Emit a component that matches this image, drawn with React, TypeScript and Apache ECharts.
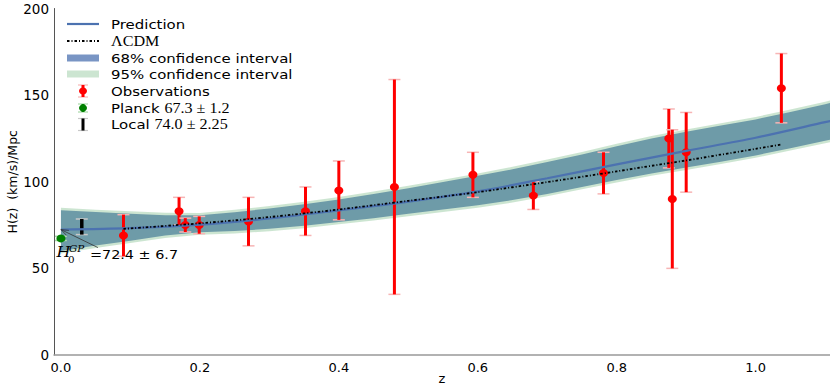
import React, { useEffect, useRef } from "react";
import * as echarts from "echarts";

const xTickValues = [0, 0.2, 0.4, 0.6, 0.8, 1.0];

// Observations (cosmic chronometers)
const obsZ = [0.09, 0.17, 0.179, 0.199, 0.27, 0.352, 0.4, 0.48, 0.593, 0.68, 0.781, 0.875, 0.88, 0.9, 1.037];
const obsH = [69, 83, 75, 75, 77, 83, 95, 97, 104, 92, 105, 125, 90, 117, 154];
const obsErr = [12, 8, 4, 5, 14, 14, 17, 62, 13, 8, 12, 17, 40, 23, 20];

const planckZ = [0];
const planckH = [67.3];
const planckErr = [1.2];

const localZ = [0.03];
const localH = [74.0];
const localErr = [4.5];

// GP prediction
const predZ = [0, 0.1, 0.2, 0.3, 0.4, 0.5, 0.6, 0.7, 0.8, 0.9, 1.0, 1.1, 1.12];
const predH = [72.4, 73.2, 75.2, 78.8, 83.5, 88.5, 94.4, 102.0, 110.0, 117.8, 125.4, 134.4, 136.2];

// Confidence bands
const bandZ = [0, 0.05, 0.1, 0.15, 0.2, 0.25, 0.3, 0.35, 0.4, 0.45, 0.5, 0.55, 0.6, 0.65, 0.7, 0.75, 0.8, 0.85, 0.9, 0.95, 1.0, 1.05, 1.1, 1.12];
const lo68 = [60.0, 63.2, 66.0, 69.0, 70.8, 71.6, 72.8, 74.6, 76.8, 79.0, 81.5, 84.0, 86.4, 89.4, 93.0, 97.0, 101.0, 104.8, 108.2, 111.6, 115.2, 119.4, 123.6, 125.3];
const hi68 = [83.6, 82.5, 81.6, 80.7, 80.6, 82.4, 84.6, 87.0, 89.8, 93.0, 96.3, 99.8, 103.4, 107.2, 111.4, 115.8, 120.5, 125.0, 128.8, 132.4, 136.0, 140.3, 144.8, 146.6];
const lo95 = [58.6, 61.8, 64.6, 67.6, 69.4, 70.2, 71.4, 73.2, 75.4, 77.6, 80.1, 82.6, 85.0, 88.0, 91.6, 95.6, 99.6, 103.4, 106.8, 110.2, 113.8, 118.0, 122.2, 123.9];
const hi95 = [85.0, 83.9, 83.0, 82.1, 82.0, 83.8, 86.0, 88.4, 91.2, 94.4, 97.7, 101.2, 104.8, 108.6, 112.8, 117.2, 121.9, 126.4, 130.2, 133.8, 137.4, 141.7, 146.2, 148.0];

// LambdaCDM
const lcdmZ = [0.09, 0.2, 0.3, 0.4, 0.5, 0.6, 0.7, 0.8, 0.834, 0.9, 0.949, 1.0, 1.037];
const lcdmH = [72.8, 76.0, 79.6, 84.0, 89.0, 94.0, 99.8, 106.0, 108.2, 112.3, 115.6, 119.0, 121.5];

const H0GP = 72.4;

const BLUE = "#4c72b0";
const BAND68 = "rgba(76,114,176,0.75)";
const BAND95 = "rgba(85,168,104,0.3)";
const SANS = "DejaVu Sans";
const SERIF = "Liberation Serif";
const SX = 1.15;

function bandSeries(lo: number[], hi: number[], color: string) {
  return {
    type: "custom",
    coordinateSystem: "cartesian2d",
    clip: true,
    silent: true,
    data: [[0.5, 100]],
    renderItem: (_p: any, api: any) => {
      const pts: number[][] = [];
      for (let i = 0; i < bandZ.length; i++) pts.push(api.coord([bandZ[i], hi[i]]));
      for (let i = bandZ.length - 1; i >= 0; i--) pts.push(api.coord([bandZ[i], lo[i]]));
      return { type: "polygon", shape: { points: pts }, style: { fill: color } };
    },
  };
}

function errSeries(zs: number[], hs: number[], es: number[], color: string, cap: string, lw: number) {
  return {
    type: "custom",
    coordinateSystem: "cartesian2d",
    silent: true,
    encode: { x: 0, y: 1 },
    data: zs.map((z, i) => [z, hs[i], es[i]]),
    renderItem: (_p: any, api: any) => {
      const z = api.value(0), h = api.value(1), e = api.value(2);
      const top = api.coord([z, h + e]);
      const bot = api.coord([z, h - e]);
      const cw = 6;
      return {
        type: "group",
        children: [
          { type: "line", shape: { x1: top[0] - cw, y1: top[1], x2: top[0] + cw, y2: top[1] }, style: { stroke: cap, lineWidth: 1.5 } },
          { type: "line", shape: { x1: bot[0] - cw, y1: bot[1], x2: bot[0] + cw, y2: bot[1] }, style: { stroke: cap, lineWidth: 1.5 } },
          { type: "line", shape: { x1: top[0], y1: top[1], x2: bot[0], y2: bot[1] }, style: { stroke: color, lineWidth: lw } },
        ],
      };
    },
  };
}

function legendGraphics() {
  const x0 = 67, x1 = 99, xc = 83, tx = 111;
  const rows = [24, 41, 58, 74, 91, 108, 124.5];
  const g: any[] = [];
  const txt = (y: number, text: string, rich?: any) => ({
    type: "text",
    x: tx,
    y,
    scaleX: SX,
    style: { x: 0, y: 0, text, font: `13px "${SANS}"`, fill: "#000", verticalAlign: "middle", rich },
  });
  const serifRich = { m: { fontFamily: SERIF, fontSize: 14, fill: "#000" } };
  g.push({ type: "line", shape: { x1: x0, y1: rows[0], x2: x1, y2: rows[0] }, style: { stroke: BLUE, lineWidth: 2.2 } });
  g.push(txt(rows[0], "Prediction"));
  g.push({ type: "line", shape: { x1: x0, y1: rows[1], x2: x1, y2: rows[1] }, style: { stroke: "#000", lineWidth: 1.8, lineDash: [2.5, 2, 1, 2] } });
  g.push(txt(rows[1], "{m|ΛCDM}", serifRich));
  g.push({ type: "rect", shape: { x: x0, y: rows[2] - 3.5, width: x1 - x0, height: 7 }, style: { fill: BAND68 } });
  g.push(txt(rows[2], "68% confidence interval"));
  g.push({ type: "rect", shape: { x: x0, y: rows[3] - 3.5, width: x1 - x0, height: 7 }, style: { fill: BAND95 } });
  g.push(txt(rows[3], "95% confidence interval"));
  const eb = (y: number, half: number, color: string, cap: string, dot: boolean) => {
    g.push({ type: "line", shape: { x1: xc - 5, y1: y - half, x2: xc + 5, y2: y - half }, style: { stroke: cap, lineWidth: 1.2 } });
    g.push({ type: "line", shape: { x1: xc - 5, y1: y + half, x2: xc + 5, y2: y + half }, style: { stroke: cap, lineWidth: 1.2 } });
    g.push({ type: "line", shape: { x1: xc, y1: y - half, x2: xc, y2: y + half }, style: { stroke: color, lineWidth: 3 } });
    if (dot) g.push({ type: "ellipse", shape: { cx: xc, cy: y, rx: 4, ry: 3.5 }, style: { fill: color } });
  };
  eb(rows[4], 6, "#ff0000", "#f7b5b5", true);
  g.push(txt(rows[4], "Observations"));
  eb(rows[5], 4, "#008000", "#a8d8a8", true);
  g.push(txt(rows[5], "Planck {m|67.3 ± 1.2}", serifRich));
  eb(rows[6], 6, "#000000", "#c8c8c8", false);
  g.push(txt(rows[6], "Local {m|74.0 ± 2.25}", serifRich));
  return g;
}

export default function App() {
  const ref = useRef<HTMLDivElement>(null);
  useEffect(() => {
    document.body.style.margin = "0";
    const chart = echarts.init(ref.current!, undefined, { renderer: "svg" });
    const option: any = {
      animation: false,
      textStyle: { fontFamily: SANS },
      grid: { left: 54, right: 0, top: 8.5, bottom: 33, containLabel: false, outerBoundsMode: "none" },
      xAxis: {
        type: "value",
        min: -0.01,
        max: 1.107,
        name: "z",
        nameLocation: "middle",
        nameGap: 17,
        nameMoveOverlap: false,
        nameTextStyle: { fontSize: 13, color: "#000", fontFamily: SANS },
        axisLine: { show: true, onZero: false, lineStyle: { color: "#999", width: 1.5 } },
        axisTick: { show: false },
        splitLine: { show: false },
        axisLabel: {
          customValues: xTickValues,
          formatter: (v: number) => v.toFixed(1),
          color: "#000",
          fontSize: 13,
          margin: 6,
          fontFamily: SANS,
        },
      },
      yAxis: {
        type: "value",
        min: 0,
        max: 200,
        interval: 50,
        name: "H(z)  (km/s)/Mpc",
        nameLocation: "middle",
        nameRotate: 90,
        nameGap: 35,
        nameMoveOverlap: false,
        nameTextStyle: { fontSize: 12.5, color: "#000", fontFamily: SANS },
        axisLine: { show: true, onZero: false, lineStyle: { color: "#555", width: 1 } },
        axisTick: { show: false },
        splitLine: { show: false },
        axisLabel: { color: "#000", fontSize: 13.5, margin: 5, fontFamily: SANS },
      },
      series: [
        bandSeries(lo68, hi68, BAND68),
        bandSeries(lo95, hi95, BAND95),
        {
          type: "line",
          data: predZ.map((z, i) => [z, predH[i]]),
          showSymbol: false,
          smooth: 0.3,
          silent: true,
          lineStyle: { color: BLUE, width: 2.2 },
        },
        {
          type: "line",
          data: lcdmZ.map((z, i) => [z, lcdmH[i]]),
          showSymbol: false,
          smooth: 0.3,
          silent: true,
          lineStyle: { color: "#000", width: 1.8, type: [2.5, 2, 1, 2] },
        },
        errSeries(obsZ, obsH, obsErr, "#ff0000", "#f7b5b5", 3),
        errSeries(planckZ, planckH, planckErr, "#008000", "#a8d8a8", 2.5),
        errSeries(localZ, localH, localErr, "#000000", "#c8c8c8", 3.5),
        {
          type: "scatter",
          data: obsZ.map((z, i) => [z, obsH[i]]),
          symbol: "circle",
          symbolSize: [9, 8],
          itemStyle: { color: "#ff0000", opacity: 1 },
          silent: true,
        },
        {
          type: "scatter",
          data: planckZ.map((z, i) => [z, planckH[i]]),
          symbol: "circle",
          symbolSize: [9, 8],
          itemStyle: { color: "#008000", opacity: 1 },
          silent: true,
        },
      ],
      graphic: legendGraphics(),
    };
    chart.setOption(option);

    // annotation for H0^GP
    const p = chart.convertToPixel({ gridIndex: 0 } as any, [0, H0GP]) as number[];
    const px = p[0], py = p[1];
    const tailX = px + 37, tailY = py + 18;
    const dx = tailX - px, dy = tailY - py;
    const len = Math.sqrt(dx * dx + dy * dy);
    const ux = dx / len, uy = dy / len;
    const ah = 8, ang = 0.35;
    const h1 = [px + ah * (ux * Math.cos(ang) - uy * Math.sin(ang)), py + ah * (ux * Math.sin(ang) + uy * Math.cos(ang))];
    const h2 = [px + ah * (ux * Math.cos(-ang) - uy * Math.sin(-ang)), py + ah * (ux * Math.sin(-ang) + uy * Math.cos(-ang))];
    const ann: any[] = [
      { type: "line", shape: { x1: tailX, y1: tailY, x2: px, y2: py }, style: { stroke: "#333", lineWidth: 0.8 }, z: 100 },
      { type: "polyline", shape: { points: [h1, [px, py], h2] }, style: { stroke: "#333", lineWidth: 0.8, fill: null }, z: 100 },
      { type: "text", x: px - 4.5, y: py + 23, scaleX: SX, z: 100, style: { x: 0, y: 0, text: "H", font: `italic 14px "DejaVu Serif"`, fill: "#000", verticalAlign: "middle" } },
      { type: "text", x: px + 8, y: py + 19, scaleX: SX, z: 100, style: { x: 0, y: 0, text: "GP", font: `italic 9px "DejaVu Serif"`, fill: "#000", verticalAlign: "middle" } },
      { type: "text", x: px + 7, y: py + 30.5, scaleX: SX, z: 100, style: { x: 0, y: 0, text: "0", font: `9px "DejaVu Serif"`, fill: "#000", verticalAlign: "middle" } },
      { type: "text", x: px + 29, y: py + 24.5, scaleX: SX, z: 100, style: { x: 0, y: 0, text: "=72.4 ± 6.7", font: `12.5px "${SANS}"`, fill: "#000", verticalAlign: "middle" } },
    ];
    chart.setOption({ graphic: [...legendGraphics(), ...ann] });

    return () => chart.dispose();
  }, []);
  return <div ref={ref} style={{ width: 830, height: 388 }} />;
}
